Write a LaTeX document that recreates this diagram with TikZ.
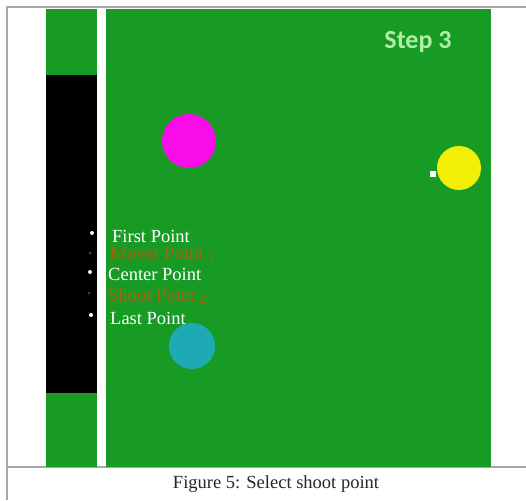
\documentclass[tikz,border=0pt]{standalone}
\usepackage{fontspec}
\setmainfont{Liberation Serif}
\newfontfamily\stepfont{Carlito}
\definecolor{fieldgreen}{HTML}{179B25}
\definecolor{steptext}{HTML}{B0EEA8}
\definecolor{orangetext}{HTML}{A8620E}
\definecolor{ballmag}{HTML}{F80CE8}
\definecolor{ballyel}{HTML}{F2EE05}
\definecolor{ballteal}{HTML}{1EAAB4}
\definecolor{framegray}{HTML}{A8A8A8}
\tikzset{
  frameline/.style={draw=framegray, line width=1.2pt},
  ptlabel/.style={anchor=west, inner sep=0pt, font=\fontsize{18.5}{18.5}\selectfont, text=white},
  ptlabelo/.style={ptlabel, text=orangetext},
  ptdot/.style={circle, fill=white, inner sep=0pt, minimum size=4pt},
  ptdoto/.style={circle, fill=orangetext!60!black, inner sep=0pt, minimum size=3pt},
}
\begin{document}
\begin{tikzpicture}[x=1pt,y=-1pt]
\useasboundingbox (0,0) rectangle (526,500);
\fill[white] (0,0) rectangle (526,500);
% frame
\draw[frameline] (7,500) -- (7,7) -- (526,7);
\draw[frameline] (7,467) -- (526,467);
% left strip
\fill[fieldgreen] (46,9) rectangle (97,467);
\fill[black] (46,75) rectangle (97,393);
% main field
\fill[fieldgreen] (106,9) rectangle (491,467);
\node[font=\stepfont\bfseries\fontsize{26}{26}\selectfont, text=steptext, inner sep=0pt] (step) at (418,42) {Step 3};
% balls
\node[circle, fill=ballmag, minimum size=54pt, inner sep=0pt] (mag) at (189,141) {};
\node[circle, fill=ballyel, minimum size=44pt, inner sep=0pt] (yel) at (459,168) {};
\node[fill=white, minimum size=6pt, inner sep=0pt] (sq) at (433,174) {};
\node[circle, fill=ballteal, minimum size=46pt, inner sep=0pt] (teal) at (192,346) {};
% points
\node[ptdot] (d1) at (92,233) {};
\node[ptdoto] (d2) at (90,253) {};
\node[ptdot] (d3) at (90,272) {};
\node[ptdoto] (d4) at (89,293) {};
\node[ptdot] (d5) at (91,315) {};
\node[ptlabel] (l1) at (112,236) {First Point};
\node[ptlabelo] (l2) at (110,255) {Mover Point \textsubscript{1}};
\node[ptlabel] (l3) at (108,274) {Center Point};
\node[ptlabelo] (l4) at (108,296) {Shoot Point \textsubscript{2}};
\node[ptlabel] (l5) at (110,318) {Last Point};
% caption
\node[font=\fontsize{18.5}{18.5}\selectfont, text=black!85, inner sep=0pt] (cap) at (276,484) {Figure 5: Select shoot point};
\end{tikzpicture}
\end{document}
